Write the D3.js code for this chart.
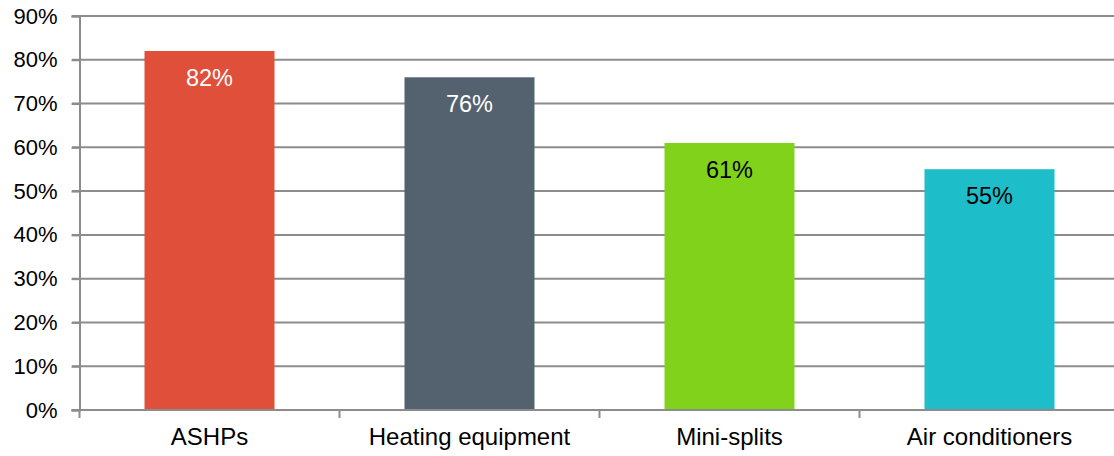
<!DOCTYPE html>
<html><head><meta charset="utf-8">
<script src="https://cdn.jsdelivr.net/npm/d3@7"></script>
<style>body{margin:0;background:#fff}svg{display:block}text{font-family:"Liberation Sans",Arial,sans-serif}</style>
</head><body><svg id="c" width="1114" height="456"></svg>
<script>
const categories = ["ASHPs","Heating equipment","Mini-splits","Air conditioners"];
const values = [0.82, 0.76, 0.61, 0.55];
const colors = ["#E04F39","#546270","#80D31A","#1DBECA"];
const labelColors = ["#ffffff","#ffffff","#000000","#000000"];
const yTicks = [0,0.1,0.2,0.3,0.4,0.5,0.6,0.7,0.8,0.9];

const svg = d3.select("#c");
const mLeft = 79.5, mRight = 1119.5, mTop = 16, mBottom = 410;
const x = d3.scaleBand().domain(categories).range([mLeft, mRight]).paddingInner(0.5).paddingOuter(0.25);
const y = d3.scaleLinear().domain([0,0.9]).range([mBottom, mTop]);
const grey = "#8c8c8c";

// gridlines
svg.append("g").selectAll("line").data(yTicks.filter(d=>d>0)).join("line")
  .attr("x1", 72).attr("x2", 1114).attr("y1", d=>y(d)).attr("y2", d=>y(d))
  .attr("stroke", grey).attr("stroke-width", 2);

// bars
svg.append("g").selectAll("rect").data(values).join("rect")
  .attr("x", (d,i)=>x(categories[i])).attr("width", x.bandwidth())
  .attr("y", d=>y(d)).attr("height", d=>mBottom - y(d))
  .attr("fill", (d,i)=>colors[i]);

// y axis
const yAxis = svg.append("g").attr("transform", `translate(${mLeft},0)`)
  .call(d3.axisLeft(y).tickValues(yTicks).tickFormat(d3.format(".0%")).tickSize(8).tickPadding(14));
yAxis.select(".domain").attr("stroke", grey).attr("stroke-width", 2);
yAxis.selectAll(".tick line").attr("stroke", grey).attr("stroke-width", 2);
yAxis.selectAll("text").attr("font-size", 22).attr("fill", "#000").style("font-family", "Liberation Sans, Arial, sans-serif");

// x axis
const step = x.step();
const xAxis = svg.append("g").attr("transform", `translate(0,${mBottom})`)
  .call(d3.axisBottom(x).tickSize(0).tickPadding(18));
xAxis.select(".domain").remove();
xAxis.append("line").attr("x1", mLeft-8).attr("x2", 1114).attr("y1",0).attr("y2",0).attr("stroke", grey).attr("stroke-width", 2);
xAxis.selectAll(".catTick").data(d3.range(categories.length+1)).join("line").attr("class","catTick")
  .attr("x1", i=>mLeft + i*step).attr("x2", i=>mLeft + i*step).attr("y1",0).attr("y2",8)
  .attr("stroke", grey).attr("stroke-width", 2);
xAxis.selectAll(".tick text").attr("font-size", 24).attr("fill", "#000").style("font-family", "Liberation Sans, Arial, sans-serif");

// value labels
svg.append("g").selectAll("text").data(values).join("text")
  .attr("x", (d,i)=>x(categories[i]) + x.bandwidth()/2)
  .attr("y", d=>y(d) + 35)
  .attr("text-anchor", "middle").attr("font-size", 23.5)
  .attr("fill", (d,i)=>labelColors[i])
  .text(d=>d3.format(".0%")(d));
</script></body></html>
